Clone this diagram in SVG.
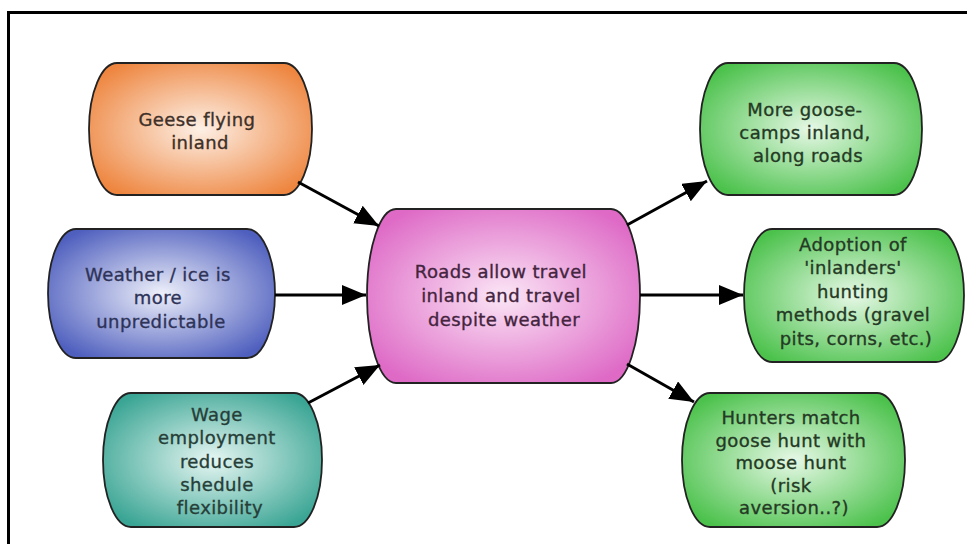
<svg xmlns="http://www.w3.org/2000/svg" width="967" height="544" viewBox="0 0 967 544">
  <defs>
    <radialGradient id="gOrange" cx="50%" cy="50%" r="60%">
      <stop offset="0" stop-color="#fdf0e6"/>
      <stop offset="1" stop-color="#ee8640"/>
    </radialGradient>
    <radialGradient id="gBlue" cx="50%" cy="50%" r="60%">
      <stop offset="0" stop-color="#eef0fa"/>
      <stop offset="1" stop-color="#4f5fbe"/>
    </radialGradient>
    <radialGradient id="gTeal" cx="50%" cy="50%" r="60%">
      <stop offset="0" stop-color="#e6f6f2"/>
      <stop offset="1" stop-color="#3aa594"/>
    </radialGradient>
    <radialGradient id="gPink" cx="50%" cy="50%" r="60%">
      <stop offset="0" stop-color="#fbe6f6"/>
      <stop offset="1" stop-color="#de6ac6"/>
    </radialGradient>
    <radialGradient id="gGreen" cx="50%" cy="50%" r="60%">
      <stop offset="0" stop-color="#e6f8e6"/>
      <stop offset="1" stop-color="#4cc24c"/>
    </radialGradient>
    <marker id="arrow" markerUnits="userSpaceOnUse" markerWidth="26" markerHeight="22" refX="24" refY="10" orient="auto">
      <path d="M0,0 L24,10 L0,20 Z" fill="#000"/>
    </marker>
  </defs>
  <style>
    .node { stroke: #222; stroke-width: 1.8; }
    .label { font-family: "DejaVu Sans", "Liberation Sans", sans-serif; font-size: 18px; text-anchor: middle; letter-spacing: 0.4px; stroke-width: 0.35px; }
    .edge { stroke: #000; stroke-width: 3; fill: none; marker-end: url(#arrow); }
    .frame { stroke: #000; stroke-width: 3; fill: none; }
  </style>

  <rect width="967" height="544" fill="#fff"/>
  <!-- outer frame (top and left edges) -->
  <path class="frame" d="M8.5,544 V12.5 H967"/>

  <!-- causes -->
  <g id="geese">
    <path class="node" fill="url(#gOrange)" d="M117,63 H284 A28,66 0 0 1 284,195 H117 A28,66 0 0 1 117,63 Z"/>
    <text class="label" fill="#3e3028" stroke="#3e3028">
      <tspan x="200" y="126">Geese flying</tspan>
      <tspan x="200" y="149">inland</tspan>
    </text>
  </g>

  <g id="weather">
    <path class="node" fill="url(#gBlue)" d="M76,229 H247 A28,64.5 0 0 1 247,358 H76 A28,64.5 0 0 1 76,229 Z"/>
    <text class="label" fill="#2e3358" stroke="#2e3358">
      <tspan x="161" y="281">Weather / ice is</tspan>
      <tspan x="161" y="304">more</tspan>
      <tspan x="161" y="328">unpredictable</tspan>
    </text>
  </g>

  <g id="wage">
    <path class="node" fill="url(#gTeal)" d="M131,393 H294 A28,67 0 0 1 294,527 H131 A28,67 0 0 1 131,393 Z"/>
    <text class="label" fill="#263e38" stroke="#263e38">
      <tspan x="220" y="421">Wage</tspan>
      <tspan x="220" y="444">employment</tspan>
      <tspan x="220" y="468">reduces</tspan>
      <tspan x="220" y="491">shedule</tspan>
      <tspan x="220" y="514">flexibility</tspan>
    </text>
  </g>

  <!-- central node -->
  <g id="roads">
    <path class="node" fill="url(#gPink)" d="M396,209 H611 A29,87 0 0 1 611,383 H396 A29,87 0 0 1 396,209 Z"/>
    <text class="label" fill="#44243e" stroke="#44243e">
      <tspan x="504" y="278">Roads allow travel</tspan>
      <tspan x="504" y="302">inland and travel</tspan>
      <tspan x="504" y="326">despite weather</tspan>
    </text>
  </g>

  <!-- effects -->
  <g id="camps">
    <path class="node" fill="url(#gGreen)" d="M728,63 H894 A28,66 0 0 1 894,195 H728 A28,66 0 0 1 728,63 Z"/>
    <text class="label" fill="#243a24" stroke="#243a24">
      <tspan x="808" y="116">More goose-</tspan>
      <tspan x="808" y="139">camps inland,</tspan>
      <tspan x="808" y="162">along roads</tspan>
    </text>
  </g>

  <g id="methods">
    <path class="node" fill="url(#gGreen)" d="M772,229 H936 A28,66.5 0 0 1 936,362 H772 A28,66.5 0 0 1 772,229 Z"/>
    <text class="label" fill="#243a24" stroke="#243a24">
      <tspan x="856" y="251">Adoption of</tspan>
      <tspan x="856" y="274">'inlanders'</tspan>
      <tspan x="856" y="298">hunting</tspan>
      <tspan x="856" y="321">methods (gravel</tspan>
      <tspan x="856" y="345">pits, corns, etc.)</tspan>
    </text>
  </g>

  <g id="moose">
    <path class="node" fill="url(#gGreen)" d="M710,393 H877 A28,67 0 0 1 877,527 H710 A28,67 0 0 1 710,393 Z"/>
    <text class="label" fill="#243a24" stroke="#243a24">
      <tspan x="794" y="424">Hunters match</tspan>
      <tspan x="794" y="447">goose hunt with</tspan>
      <tspan x="794" y="469">moose hunt</tspan>
      <tspan x="794" y="492">(risk</tspan>
      <tspan x="794" y="514">aversion..?)</tspan>
    </text>
  </g>

  <!-- connectors -->
  <g id="connectors">
    <line class="edge" x1="298" y1="182" x2="379" y2="226"/>
    <line class="edge" x1="275" y1="295" x2="366" y2="295"/>
    <line class="edge" x1="308" y1="403" x2="380" y2="365"/>
    <line class="edge" x1="627" y1="225" x2="707" y2="181"/>
    <line class="edge" x1="640" y1="295" x2="743" y2="295"/>
    <line class="edge" x1="627" y1="364" x2="694" y2="402"/>
  </g>
</svg>
